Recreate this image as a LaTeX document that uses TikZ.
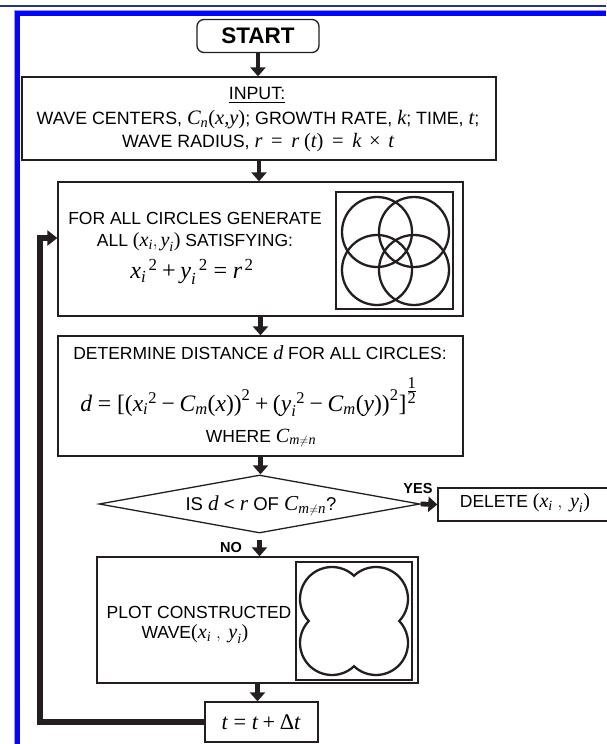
\documentclass[tikz,border=0pt]{standalone}
\usepackage{fontspec}
\usepackage{amsmath}
\setmainfont{Liberation Sans}
\newfontfamily\tms[Scale=1.15]{Liberation Serif}
\usetikzlibrary{arrows.meta,shapes.geometric}
\definecolor{linec}{RGB}{35,31,32}
\definecolor{navyc}{RGB}{43,52,120}
\definecolor{bluec}{RGB}{5,5,250}
\definecolor{lbluec}{RGB}{150,150,250}
\newcommand\fmi[1]{\text{\tms\itshape #1}}
\newcommand\fmr[1]{\text{\tms\upshape #1}}
\newcommand\feq{\mathrel{\fmr{=}}}
\newcommand\fpl{\mathbin{\fmr{+}}}
\newcommand\fmn{\mathbin{\fmr{−}}}
\newcommand\ftm{\mathbin{\fmr{×}}}
\newcommand\weq{\mskip4mu\mathrel{\fmr{=}}\mskip4mu}
\newcommand\wtm{\mskip4mu\mathbin{\fmr{×}}\mskip4mu}
\begin{document}
\begin{tikzpicture}[x=1pt,y=-1pt,
  box/.style={draw=linec, line width=1.3pt, fill=white, inner sep=0pt},
  txt/.style={inner sep=0pt, text=black, font=\fontsize{17.5}{20}\selectfont},
  flow/.style={draw=linec, line width=4.8pt, -{Triangle[length=9pt,width=15pt]}},
  loopln/.style={draw=linec, line width=6pt, -{Triangle[length=10pt,width=15pt]}},
  lbl/.style={inner sep=0pt, text=black, font=\fontsize{14.5}{16}\selectfont\bfseries},
  pic/.style={draw=linec, line width=2.3pt}]
\useasboundingbox (0,0) rectangle (606,744);
% page frame
\fill[navyc] (0,5) rectangle (606,7);
\fill[lbluec] (14,10) rectangle (606,16);
\fill[bluec] (15,11) rectangle (606,16);
\fill[lbluec] (14,10) rectangle (20,744);
\fill[bluec] (15,11) rectangle (20,744);
% boxes
\node[box, rounded corners=7pt, minimum width=122pt, minimum height=33pt] (start) at (258,36) {};
\node[txt, font=\fontsize{22.5}{26}\selectfont\bfseries] (starttxt) at (258,36) {START};
\node[box, minimum width=474pt, minimum height=83pt] (input) at (259,118.5) {};
\node[txt, font=\fontsize{17.8}{20}\selectfont] (inhead) at (257,95) {\underline{INPUT:}};
\node[txt, font=\fontsize{17.8}{20}\selectfont] (inl2) at (258,120) {WAVE CENTERS, $\fmi{C}_{\fmi{n}}\fmr{(}\fmi{x,y}\fmr{)}$; GROWTH RATE, $\fmi{k}$; TIME, $\fmi{t}$;};
\node[txt, font=\fontsize{17.8}{20}\selectfont] (inl3) at (258,143) {WAVE RADIUS, $\fmi{r}\weq\fmi{r}\;\fmr{(}\fmi{t}\fmr{)}\weq\fmi{k}\wtm\fmi{t}$};
\node[box, minimum width=405pt, minimum height=134pt] (calc) at (260.5,249) {};
\node[txt] (calcl1) at (195,218) {FOR ALL CIRCLES GENERATE};
\node[txt] (calcl2) at (195,242) {ALL $\fmr{(}\fmi{x}_{\fmi{i}},\fmi{y}_{\fmi{i}}\fmr{)}$ SATISFYING:};
\node[txt, font=\fontsize{21}{26}\selectfont] (calcf) at (192,272) {$\fmi{x}_{\fmi{i}}{}^{\,\fmr{2}}\fpl\fmi{y}_{\fmi{i}}{}^{\,\fmr{2}}\feq\fmi{r}^{\,\fmr{2}}$};
\draw[draw=linec, line width=1.6pt] (336,192) rectangle (453,309);
\draw[pic] (377,232) circle[radius=35];
\draw[pic] (414,232) circle[radius=35];
\draw[pic] (377,270) circle[radius=35];
\draw[pic] (414,270) circle[radius=35];
\node[box, minimum width=405pt, minimum height=120pt] (dist) at (260.5,396) {};
\node[txt] (distl1) at (260,353) {DETERMINE DISTANCE $\fmi{d}$ FOR ALL CIRCLES:};
\node[txt, font=\fontsize{20.5}{26}\selectfont] (distf) at (249,397) {$\fmi{d}\feq\fmr{[(}\fmi{x}_{\fmi{i}}{}^{\fmr{2}}\fmn\fmi{C}_{\fmi{m}}\fmr{(}\fmi{x}\fmr{))}^{\fmr{2}}\fpl\fmr{(}\fmi{y}_{\fmi{i}}{}^{\fmr{2}}\fmn\fmi{C}_{\fmi{m}}\fmr{(}\fmi{y}\fmr{))}^{\fmr{2}}\fmr{]}^{\raisebox{4pt}{$\scriptstyle\genfrac{}{}{0.6pt}{1}{\fmr{1}}{\fmr{2}}$}}$};
\node[txt] (distl3) at (261,438) {WHERE $\fmi{C}_{\fmi{m}\neq\fmi{n}}$};
\node[draw=linec, line width=1.3pt, fill=white, diamond, minimum width=321pt, minimum height=58pt, inner sep=0pt] (dec) at (259.5,504) {};
\node[txt, font=\fontsize{18.5}{20}\selectfont] (dectxt) at (261,506) {IS $\fmi{d}$ < $\fmi{r}$ OF $\fmi{C}_{\fmi{m}\neq\fmi{n}}$?};
\node[box, minimum width=170pt, minimum height=33pt] (del) at (523,504.5) {};
\node[txt] (deltxt) at (525,503) {DELETE $\fmr{(}\fmi{x}_{\fmi{i}}\;,\;\fmi{y}_{\fmi{i}}\fmr{)}$};
\node[lbl] (yes) at (418,489) {YES};
\node[lbl] (no) at (231,548) {NO};
\node[box, minimum width=321pt, minimum height=126pt] (plot) at (257.5,620) {};
\draw[draw=linec, line width=1.3pt] (296,562) rectangle (412,680);
\node[txt] (plotl1) at (199,612) {PLOT CONSTRUCTED};
\node[txt] (plotl2) at (195,634) {WAVE$\fmr{(}\fmi{x}_{\fmi{i}}\;,\;\fmi{y}_{\fmi{i}}\fmr{)}$};
\draw[pic] (354,575.76) arc[start angle=-133.43,end angle=43.43,radius=32]
  arc[start angle=-43.43,end angle=133.43,radius=32]
  arc[start angle=46.57,end angle=223.43,radius=32]
  arc[start angle=136.57,end angle=313.43,radius=32] -- cycle;
\node[box, minimum width=113pt, minimum height=40pt] (tstep) at (261.5,722) {};
\node[txt, font=\fontsize{19.4}{24}\selectfont] (tsteptxt) at (261,722) {$\fmi{t}\feq\fmi{t}\fpl\fmr{Δ}\fmi{t}$};
% connectors
\draw[flow] (start.south) -- (start.south |- input.north);
\draw[flow] (input.south) -- (input.south |- calc.north);
\draw[flow] (calc.south) -- (calc.south |- dist.north);
\draw[flow] (dist.south) -- (dist.south |- dec.north);
\draw[flow] (dec.east) -- (del.west);
\draw[flow] ([yshift=-6pt]dec.south) -- (dec.south |- plot.north);
\draw[flow] (plot.south) -- (plot.south |- tstep.north);
\coordinate (lpa) at (40,722);
\coordinate (lpb) at (40,238);
\draw[loopln] (tstep.west) -- (lpa) -- (lpb) -- (lpb -| calc.west);
\end{tikzpicture}
\end{document}
